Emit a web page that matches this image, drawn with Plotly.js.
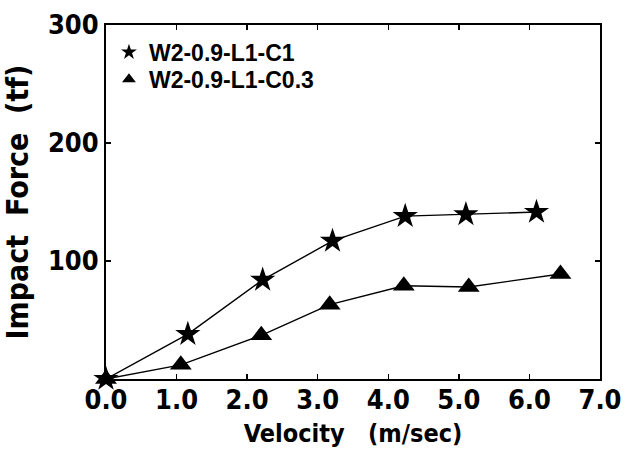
<!DOCTYPE html>
<html>
<head>
<meta charset="utf-8">
<script src="https://cdn.plot.ly/plotly-3.0.1.min.js"></script>
<style>
html,body{margin:0;padding:0;background:#fff;}
#chart{width:632px;height:460px;}
#chart .xtick text, #chart .ytick text, #chart .xtitle, #chart .ytitle { font-stretch: condensed !important; }
</style>
</head>
<body>
<div id="chart"></div>
<script>
var seriesNames = ["W2-0.9-L1-C1", "W2-0.9-L1-C0.3"];
var velocityC1 = [0, 1.16, 2.22, 3.21, 4.24, 5.10, 6.10];
var forceC1 = [0, 38, 84, 117, 138, 139.5, 141.5];
var velocityC03 = [0, 1.06, 2.20, 3.17, 4.22, 5.14, 6.44];
var forceC03 = [0, 12, 37, 63, 79, 78, 89];
var xTickVals = [0, 1, 2, 3, 4, 5, 6, 7];
var xTickText = ["0.0", "1.0", "2.0", "3.0", "4.0", "5.0", "6.0", "7.0"];
var yTickVals = [100, 200, 300];
var yTickText = ["100", "200", "300"];

var cond = "DejaVu Sans, sans-serif";

function lineTrace(x, y) {
  return {x: x, y: y, mode: "lines", type: "scatter", showlegend: false,
          line: {color: "#000", width: 1.4}, hoverinfo: "skip", cliponaxis: false};
}
function markTrace(x, y, name, sym, size, leg) {
  return {x: x, y: y, mode: "markers", type: "scatter", name: name, legend: leg,
          marker: {symbol: sym, size: size, color: "#000", line: {width: 0}},
          cliponaxis: false};
}

var data = [
  lineTrace(velocityC1, forceC1),
  lineTrace(velocityC03, forceC03),
  markTrace(velocityC1, forceC1, seriesNames[0], "star", 19, "legend"),
  markTrace(velocityC03, forceC03, seriesNames[1], "triangle-up", 19, "legend2")
];

var legFont = {family: "Liberation Sans, Arial, sans-serif", size: 23, color: "#000", weight: "bold"};

var layout = {
  width: 632, height: 460,
  margin: {l: 106, r: 32, t: 25, b: 81},
  paper_bgcolor: "#fff", plot_bgcolor: "#fff",
  showlegend: true,
  legend: {x: 0.006, y: 0.984, xanchor: "left", yanchor: "top",
           bgcolor: "rgba(0,0,0,0)", font: legFont, itemsizing: "constant"},
  legend2: {x: 0.006, y: 0.907, xanchor: "left", yanchor: "top",
           bgcolor: "rgba(0,0,0,0)", font: legFont, itemsizing: "constant"},
  xaxis: {
    range: [0, 7], tickvals: xTickVals, ticktext: xTickText,
    ticks: "inside", ticklen: 5, tickwidth: 1.5, tickcolor: "#000",
    showline: true, linecolor: "#000", linewidth: 2, mirror: "ticks",
    showgrid: false, zeroline: false,
    ticklabelstandoff: -4,
    tickfont: {family: cond, size: 27, color: "#000", weight: "bold"},
    title: {text: "Velocity   (m/sec)", standoff: 10,
            font: {family: cond, size: 25, color: "#000", weight: "bold"}}
  },
  yaxis: {
    range: [0, 300], tickvals: yTickVals, ticktext: yTickText,
    ticks: "inside", ticklen: 5, tickwidth: 1.5, tickcolor: "#000",
    showline: true, linecolor: "#000", linewidth: 2, mirror: "ticks",
    showgrid: false, zeroline: false,
    tickfont: {family: cond, size: 27, color: "#000", weight: "bold"},
    title: {text: "Impact  Force  (tf)", standoff: 10,
            font: {family: cond, size: 30, color: "#000", weight: "bold"}}
  }
};

Plotly.newPlot("chart", data, layout, {displayModeBar: false, staticPlot: true});
</script>
</body>
</html>
